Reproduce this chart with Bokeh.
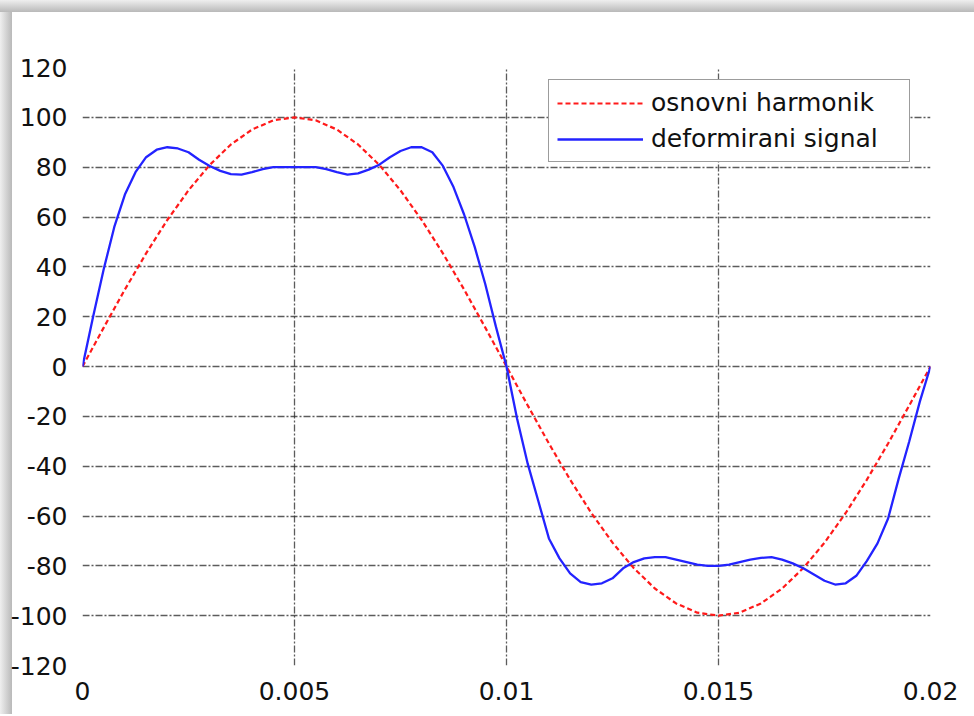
from bokeh.plotting import figure
from bokeh.models import Legend, LegendItem, FixedTicker, Range1d
from bokeh.embed import file_html
from bokeh.resources import INLINE

# ---- data ----
t_fund = [0.0, 0.0005, 0.001, 0.0015, 0.002, 0.0025, 0.003, 0.0035, 0.004, 0.0045,
          0.005, 0.0055, 0.006, 0.0065, 0.007, 0.0075, 0.008, 0.0085, 0.009, 0.0095,
          0.01, 0.0105, 0.011, 0.0115, 0.012, 0.0125, 0.013, 0.0135, 0.014, 0.0145,
          0.015, 0.0155, 0.016, 0.0165, 0.017, 0.0175, 0.018, 0.0185, 0.019, 0.0195,
          0.02]
osnovni = [0, 15.6, 30.9, 45.4, 58.8, 70.7, 80.9, 89.1, 95.1, 98.8,
           100, 98.8, 95.1, 89.1, 80.9, 70.7, 58.8, 45.4, 30.9, 15.6,
           0, -15.6, -30.9, -45.4, -58.8, -70.7, -80.9, -89.1, -95.1, -98.8,
           -100, -98.8, -95.1, -89.1, -80.9, -70.7, -58.8, -45.4, -30.9, -15.6,
           0]

t_def = [0.0, 0.00025, 0.0005, 0.00075, 0.001, 0.00125, 0.0015, 0.00175,
         0.002, 0.00225, 0.0025, 0.00275, 0.003, 0.00325, 0.0035, 0.00375,
         0.004, 0.00425, 0.0045, 0.00475, 0.005, 0.00525, 0.0055, 0.00575,
         0.006, 0.00625, 0.0065, 0.00675, 0.007, 0.00725, 0.0075, 0.00775,
         0.008, 0.00825, 0.0085, 0.00875, 0.009, 0.00925, 0.0095, 0.00975,
         0.01, 0.01025, 0.0105, 0.01075, 0.011, 0.01125, 0.0115, 0.01175,
         0.012, 0.01225, 0.0125, 0.01275, 0.013, 0.01325, 0.0135, 0.01375,
         0.014, 0.01425, 0.0145, 0.01475, 0.015, 0.01525, 0.0155, 0.01575,
         0.016, 0.01625, 0.0165, 0.01675, 0.017, 0.01725, 0.0175, 0.01775,
         0.018, 0.01825, 0.0185, 0.01875, 0.019, 0.01925, 0.0195, 0.01975,
         0.02]
deformirani = [0, 20, 39, 56, 69, 78, 84, 87,
               88, 87.5, 86, 83, 80.5, 78.5, 77.2, 77,
               78, 79.2, 80, 80, 80, 80, 80, 79.2,
               78, 77, 77.5, 79, 81, 84, 86.5, 88,
               88, 86, 80.5, 72, 61, 48, 33, 16,
               0, -21, -39, -54, -69, -77, -83, -86.5,
               -87.5, -87, -85, -81, -78.5, -77, -76.5, -76.5,
               -77.5, -78.5, -79.5, -80, -80, -79.5, -78.5, -77.5,
               -76.8, -76.5, -77.5, -79, -81, -83.5, -86, -87.5,
               -87, -84, -78, -71, -61, -45, -30, -14,
               0]

x_ticks = [0.0, 0.005, 0.01, 0.015, 0.02]
x_tick_labels = ["0", "0.005", "0.01", "0.015", "0.02"]
y_ticks = [-120, -100, -80, -60, -40, -20, 0, 20, 40, 60, 80, 100, 120]
y_tick_labels = ["-120", "-100", "-80", "-60", "-40", "-20", "0",
                 "20", "40", "60", "80", "100", "120"]
legend_labels = ["osnovni harmonik", "deformirani signal"]

FONT = "DejaVu Sans"

p = figure(width=974, height=714,
           x_range=Range1d(0, 0.02), y_range=Range1d(-120, 120),
           output_backend="svg", toolbar_location=None,
           min_border_left=82, min_border_right=44,
           min_border_top=67, min_border_bottom=49)
p.styles = {
    "background": ("linear-gradient(to bottom, #efefef, #b9b9b9) top left / 100% 12px no-repeat, "
                   "linear-gradient(to right, #efefef, #b9b9b9) top left / 12px 100% no-repeat, "
                   "#ffffff"),
}
p.background_fill_color = "white"
p.border_fill_color = "white"
p.border_fill_alpha = 0.0
p.outline_line_color = None

# axes
p.xaxis.ticker = FixedTicker(ticks=x_ticks)
p.xaxis.major_label_overrides = dict(zip(x_ticks, x_tick_labels))
p.yaxis.ticker = FixedTicker(ticks=y_ticks)
p.yaxis.major_label_overrides = dict(zip(y_ticks, y_tick_labels))
for ax in (p.xaxis, p.yaxis):
    ax.axis_line_color = None
    ax.major_tick_line_color = None
    ax.minor_tick_line_color = None
    ax.major_label_text_font = FONT
    ax.major_label_text_font_size = "25px"
    ax.major_label_text_color = "#111111"
p.xaxis.major_label_standoff = 10
p.yaxis.major_label_standoff = 9

# grid
p.xgrid.ticker = FixedTicker(ticks=x_ticks[:-1])
p.ygrid.ticker = FixedTicker(ticks=y_ticks)
for g in (p.xgrid, p.ygrid):
    g.grid_line_color = "#333333"
    g.grid_line_width = 1.3
    g.grid_line_dash = "7 2 2 2"
    g.grid_line_alpha = 0.8

r_red = p.line(t_fund, osnovni, line_color="#ff1a1a", line_width=2.2,
               line_dash="5 3")
r_blue = p.line(t_def, deformirani, line_color="#2323ff", line_width=2.3)

legend = Legend(items=[LegendItem(label=legend_labels[0], renderers=[r_red]),
                       LegendItem(label=legend_labels[1], renderers=[r_blue])],
                location=(466, 503))
legend.padding = 8
legend.spacing = 7
legend.glyph_height = 28
legend.label_height = 28
legend.glyph_width = 86
legend.label_standoff = 8
legend.label_width = 250
legend.margin = 0
legend.label_text_font = FONT
legend.label_text_font_size = "25px"
legend.label_text_color = "#111111"
legend.border_line_color = "#3a3a3a"
legend.border_line_width = 1.5
legend.background_fill_color = "white"
legend.background_fill_alpha = 1.0
p.add_layout(legend)

open("out.html", "w").write(file_html(p, INLINE))
